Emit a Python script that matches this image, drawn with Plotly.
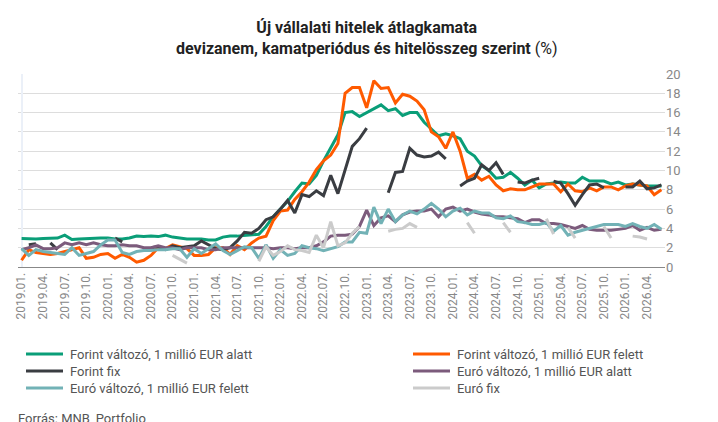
import plotly.graph_objects as go

months = [f"{y}.{m:02d}." for y in range(2019, 2027) for m in range(1, 13)][:90]
tick_labels = months[::3]

N = None
forint_valt_alatt = [2.95,2.9,2.9,2.95,3.0,3.0,3.3,2.85,2.9,2.95,3.0,3.0,3.0,2.9,2.9,3.0,3.2,3.15,3.2,3.15,
    3.3,3.1,3.0,2.9,2.9,2.9,2.8,2.8,3.1,3.2,3.2,3.25,3.3,3.4,4.2,5.2,6.0,6.8,7.8,8.7,
    8.6,9.5,11.0,12.3,13.7,16.0,16.1,15.6,16.0,16.4,16.8,16.2,16.4,15.7,16.0,16.0,15.0,14.3,13.6,13.8,
    13.6,13.3,12.0,11.5,10.5,10.0,9.2,9.3,9.8,9.2,8.5,9.0,8.2,8.6,8.7,8.8,8.7,8.7,9.3,8.9,
    8.9,8.9,8.6,8.8,8.5,8.6,8.5,8.4,8.4,8.4]
forint_valt_felett = [0.7,1.8,1.5,1.4,1.3,1.4,1.6,1.8,2.0,0.9,1.0,1.3,1.4,0.9,1.3,1.0,0.5,0.7,1.2,2.0,
    1.9,2.3,2.1,1.9,1.2,1.2,1.3,2.0,2.0,1.3,2.2,1.8,2.5,3.0,3.2,4.8,5.8,5.9,7.0,7.8,
    8.8,10.1,11.0,11.6,12.8,18.0,18.6,18.6,16.5,19.3,18.5,18.6,17.0,17.9,17.7,17.2,16.3,14.0,13.5,12.3,
    14.0,12.0,9.2,9.6,9.0,9.4,8.5,7.9,8.1,8.0,8.0,8.3,8.6,8.6,8.6,7.8,8.6,7.9,7.8,8.2,
    7.9,8.3,8.3,8.0,8.4,8.6,8.5,8.4,7.5,8.0]
forint_fix = [N,2.3,2.4,N,2.5,1.8,N,N,N,N,N,N,N,3.0,2.6,N,N,N,2.0,2.1,
    1.8,2.2,2.0,2.1,2.2,2.7,2.3,1.9,1.8,2.0,2.7,3.6,3.5,4.0,4.9,5.2,6.0,6.9,5.6,7.5,
    7.3,7.9,7.4,9.5,7.6,10.0,12.5,13.3,14.4,N,N,7.7,9.8,9.9,12.3,11.6,11.4,11.5,11.9,11.2,
    N,8.4,8.9,9.2,10.6,10.0,10.8,9.6,N,8.8,8.7,9.0,9.2,N,8.9,8.7,7.6,6.4,7.5,8.5,
    8.6,8.2,N,N,8.3,8.3,8.9,8.1,8.2,8.5]
euro_valt_alatt = [1.8,2.0,2.3,1.9,1.9,2.0,2.5,2.3,2.5,2.3,2.5,2.3,2.2,2.2,2.3,2.2,2.2,2.0,2.0,2.2,
    2.0,2.0,1.8,2.0,2.0,2.0,1.8,1.8,2.0,2.0,2.0,2.0,2.0,2.0,2.0,1.9,2.0,2.0,1.9,2.0,
    2.0,2.2,2.6,3.2,3.3,3.3,3.4,4.2,5.9,4.3,5.1,5.3,4.7,5.4,5.7,5.8,5.8,6.0,5.2,6.0,
    6.2,5.8,6.0,5.7,5.5,5.4,5.2,5.2,5.1,5.0,4.6,4.9,4.9,4.5,4.5,4.4,4.2,4.0,4.3,3.9,
    3.8,3.8,3.8,3.9,4.0,4.3,3.8,4.1,3.8,3.9]
euro_valt_felett = [1.9,1.2,1.8,1.6,1.5,1.4,1.3,2.0,1.2,1.4,1.6,2.3,2.8,2.8,1.5,1.3,1.6,1.7,1.7,1.8,
    1.8,1.9,1.9,1.0,1.9,1.4,1.9,2.4,1.7,1.3,1.7,2.1,2.0,0.9,2.3,0.9,1.8,1.2,1.4,2.2,
    2.0,1.9,1.7,1.9,2.1,2.6,2.6,3.6,3.5,6.2,4.5,6.0,4.7,5.4,5.8,5.5,6.0,6.6,6.0,5.2,
    5.8,6.1,5.4,5.8,5.6,5.6,5.1,5.0,5.3,4.7,4.6,4.4,4.4,4.6,3.7,4.3,3.3,3.6,3.8,4.0,
    4.2,4.4,4.4,4.4,4.2,4.5,4.2,4.0,4.4,3.9]
euro_fix = [N]*21 + [1.2,0.8,0.4] + [N]*9 + [0.6,2.1,1.2,1.6,2.2,1.8,1.7,1.5,3.3,2.0,4.7,2.2,2.5,3.5,4.2,
    N,N,N,3.7,3.9,4.0,4.5,4.1,N,N,N,N,N,N,4.6,3.5,N,N,N,4.6,3.6,N,N,N,N,5.0,3.4,N,4.1,3.0,
    N,N,N,4.2,3.0,N,N,3.2,3.1,2.9,N]

series = [
    ("Forint változó, 1 millió EUR alatt", forint_valt_alatt, "#0A9E78"),
    ("Forint változó, 1 millió EUR felett", forint_valt_felett, "#FF5A00"),
    ("Forint fix", forint_fix, "#3A3D42"),
    ("Euró változó, 1 millió EUR alatt", euro_valt_alatt, "#7C5B7C"),
    ("Euró változó, 1 millió EUR felett", euro_valt_felett, "#72B2B6"),
    ("Euró fix", euro_fix, "#CBCBCB"),
]

# plot area in pixels: x 10..657, y 66..259
L, R, T, B = 10, 657, 66, 259
def px(xp): return (xp - L) / (R - L)
def py(yp): return (B - yp) / (B - T)

fig = go.Figure()
x = list(range(len(months)))
shapes, annots = [], []
for k, (name, vals, col) in enumerate(series):
    fig.add_trace(go.Scatter(x=x, y=vals[:90], mode="lines", name=name, showlegend=False,
                             line=dict(color=col, width=3), connectgaps=False))
    col_i, row = k % 2, k // 2
    x0 = 18 if col_i == 0 else 405
    yy = 346 + row * 17
    shapes.append(dict(type="line", xref="paper", yref="paper", x0=px(x0), x1=px(x0 + 37),
                       y0=py(yy), y1=py(yy), line=dict(color=col, width=3)))
    annots.append(dict(text=name, xref="paper", yref="paper", x=px(x0 + 42), y=py(yy),
                       xanchor="left", yanchor="middle", showarrow=False,
                       font=dict(size=13, color="#555")))

annots.append(dict(text="Forrás: MNB, Portfolio", x=px(8), xref="paper", xanchor="left",
                   y=py(410), yref="paper", yanchor="middle", showarrow=False,
                   font=dict(size=13, color="#555")))
annots.append(dict(text="<b>Új vállalati hitelek átlagkamata<br>devizanem, kamatperiódus és hitelösszeg szerint</b> (%)",
                   x=px(359), xref="paper", xanchor="center", y=py(8), yref="paper", yanchor="top",
                   showarrow=False, font=dict(size=16, color="#222")))

fig.update_layout(
    width=718, height=422, template="plotly_white",
    paper_bgcolor="white", plot_bgcolor="white",
    font=dict(family="Roboto", size=13, color="#444"),
    margin=dict(l=L, r=718 - R, t=T, b=422 - B),
    showlegend=False, shapes=shapes, annotations=annots,
)
fig.update_xaxes(range=[-0.5, 89.5], tickmode="array", tickvals=x[::3], ticktext=tick_labels,
                 tickangle=-90, showgrid=False, showline=True, linecolor="#888",
                 tickfont=dict(size=12, color="#888"), ticks="", automargin=False)
fig.update_yaxes(side="right", range=[0, 20], dtick=2, showgrid=True, gridcolor="#DDD",
                 zeroline=False, tickfont=dict(size=13, color="#888"), ticks="", automargin=False)
fig.write_html("out.html")
